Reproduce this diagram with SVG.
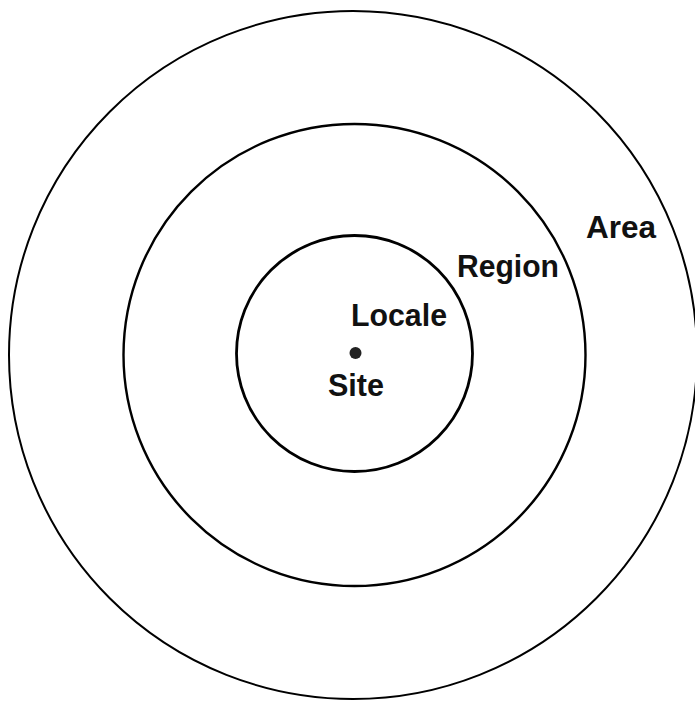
<svg xmlns="http://www.w3.org/2000/svg" width="695" height="703" viewBox="0 0 695 703">
<style>
.ring{fill:none;stroke:#000}
.lbl{font-family:"Liberation Sans",Arial,sans-serif;font-weight:bold;font-size:31px;fill:#111}
</style>
<rect width="695" height="703" fill="#fff"/>
<g id="area">
<circle class="ring" cx="353" cy="355" r="344" stroke-width="2"/>
<text class="lbl" x="586" y="238" textLength="70" lengthAdjust="spacingAndGlyphs">Area</text>
</g>
<g id="region">
<circle class="ring" cx="354.5" cy="355" r="231" stroke-width="2.4"/>
<text class="lbl" x="457" y="277" textLength="102" lengthAdjust="spacingAndGlyphs">Region</text>
</g>
<g id="locale">
<circle class="ring" cx="354.5" cy="353.5" r="118" stroke-width="2.8"/>
<text class="lbl" x="351" y="326" textLength="96" lengthAdjust="spacingAndGlyphs">Locale</text>
</g>
<g id="site">
<circle cx="355.5" cy="353" r="6" fill="#222"/>
<text class="lbl" x="328" y="396" textLength="56" lengthAdjust="spacingAndGlyphs">Site</text>
</g>
<g id="connectors"/>
</svg>
